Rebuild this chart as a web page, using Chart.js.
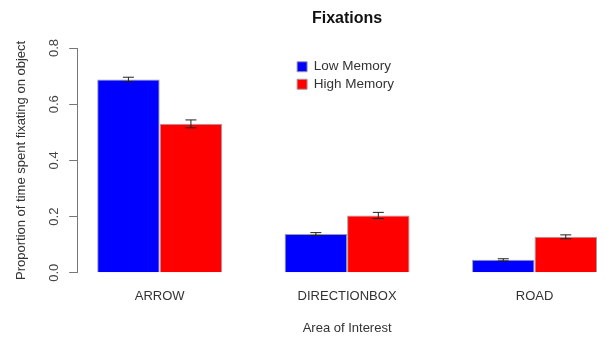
<!DOCTYPE html>
<html>
<head>
<meta charset="utf-8">
<script src="https://cdn.jsdelivr.net/npm/chart.js@4.4.1/dist/chart.umd.min.js"></script>
<style>
	html, body { margin: 0; padding: 0; background: white; overflow: hidden; }
	#wrap { width: 625px; height: 339px; }
</style>
</head>
<body>
<div id="wrap"><canvas id="myChart"></canvas></div>
<script>
const categories = ['ARROW', 'DIRECTIONBOX', 'ROAD']
const lowMemory  = [0.688, 0.138, 0.046]
const highMemory = [0.530, 0.204, 0.128]
const lowErr     = [0.008, 0.005, 0.004]
const highErr    = [0.014, 0.011, 0.007]
const yTicks     = [0, 0.2, 0.4, 0.6, 0.8]

const fontFamily = "'Liberation Sans', Arial, Helvetica, sans-serif"
const axisColor  = '#777'
const textColor  = '#333'

/* error bars drawn at each bar's own x, heights through the y scale */
const errorBars = {
	id: 'errorBars',
	afterDatasetsDraw(chart) {
		const ctx = chart.ctx
		const y = chart.scales.y
		const errs = [lowErr, highErr]
		chart.data.datasets.forEach((ds, di) => {
			chart.getDatasetMeta(di).data.forEach((bar, i) => {
				const v = ds.data[i].y
				const top = y.getPixelForValue(v + errs[di][i])
				const bot = y.getPixelForValue(v - errs[di][i])
				ctx.save()
				ctx.strokeStyle = '#222'
				ctx.lineWidth = 1
				ctx.beginPath()
				ctx.moveTo(bar.x, top); ctx.lineTo(bar.x, bot)
				ctx.moveTo(bar.x - 5.5, top); ctx.lineTo(bar.x + 5.5, top)
				ctx.moveTo(bar.x - 5.5, bot); ctx.lineTo(bar.x + 5.5, bot)
				ctx.stroke()
				ctx.restore()
			})
		})
	}
}

/* put the legend near the top centre of the plot, like R's legend("top") */
const legendTop = {
	id: 'legendTop',
	afterLayout(chart) {
		const lg = chart.legend
		const ca = chart.chartArea
		lg.left = (ca.left + ca.right) / 2 - 54
		lg.top = ca.top + 8
	}
}

const ctx = document.getElementById('myChart').getContext('2d')
const chart = new Chart(ctx, {
	type: 'bar',
	data: {
		datasets: [{
			label: 'Low Memory',
			data: lowMemory.map((v, i) => ({ x: i, y: v })),
			backgroundColor: '#0000ff',
			borderColor: '#9a9aa6',
			borderWidth: 1,
			categoryPercentage: 2 / 3,
			barPercentage: 1
		}, {
			label: 'High Memory',
			data: highMemory.map((v, i) => ({ x: i, y: v })),
			backgroundColor: '#ff0000',
			borderColor: '#a89a9a',
			borderWidth: 1,
			categoryPercentage: 2 / 3,
			barPercentage: 1
		}]
	},
	options: {
		responsive: true,
		maintainAspectRatio: false,
		animation: false,
		layout: { padding: { left: 0, right: 8, top: 0, bottom: 0 } },
		scales: {
			x: {
				type: 'linear',
				min: -0.44,
				max: 2.44,
				offset: false,
				afterBuildTicks: (scale) => { scale.ticks = categories.map((c, i) => ({ value: i })) },
				ticks: {
					callback: (v) => categories[v],
					color: textColor,
					font: { family: fontFamily, size: 13 },
					padding: 16,
					maxRotation: 0,
					autoSkip: false
				},
				grid: { display: false, drawTicks: false },
				border: { display: false },
				title: {
					display: true,
					text: 'Area of Interest',
					color: textColor,
					font: { family: fontFamily, size: 13 },
					padding: { top: 0, bottom: 3 }
				}
			},
			y: {
				min: 0,
				max: 0.8,
				afterBuildTicks: (scale) => { scale.ticks = yTicks.map(v => ({ value: v })) },
				ticks: {
					callback: (v) => v.toFixed(1),
					color: '#444',
					font: { family: fontFamily, size: 13 },
					minRotation: 90,
					maxRotation: 90,
					crossAlign: 'center',
					padding: 5.5
				},
				grid: { drawOnChartArea: false, drawTicks: true, tickLength: 8, color: axisColor },
				border: { display: true, color: axisColor },
				title: {
					display: true,
					text: 'Proportion of time spent fixating on object',
					color: textColor,
					font: { family: fontFamily, size: 13 },
					padding: { top: 14, bottom: 13 }
				}
			}
		},
		plugins: {
			title: {
				display: true,
				text: 'Fixations',
				fullSize: false,
				color: '#111',
				font: { family: fontFamily, size: 16, weight: 'bold' },
				padding: { top: 9.4, bottom: 19.4 }
			},
			legend: {
				position: 'chartArea',
				align: 'start',
				labels: {
					boxWidth: 10,
					boxHeight: 10,
					padding: 4,
					color: textColor,
					font: { family: fontFamily, size: 13.5 }
				}
			},
			tooltip: { enabled: false }
		}
	},
	plugins: [errorBars, legendTop]
})
</script>
</body>
</html>
